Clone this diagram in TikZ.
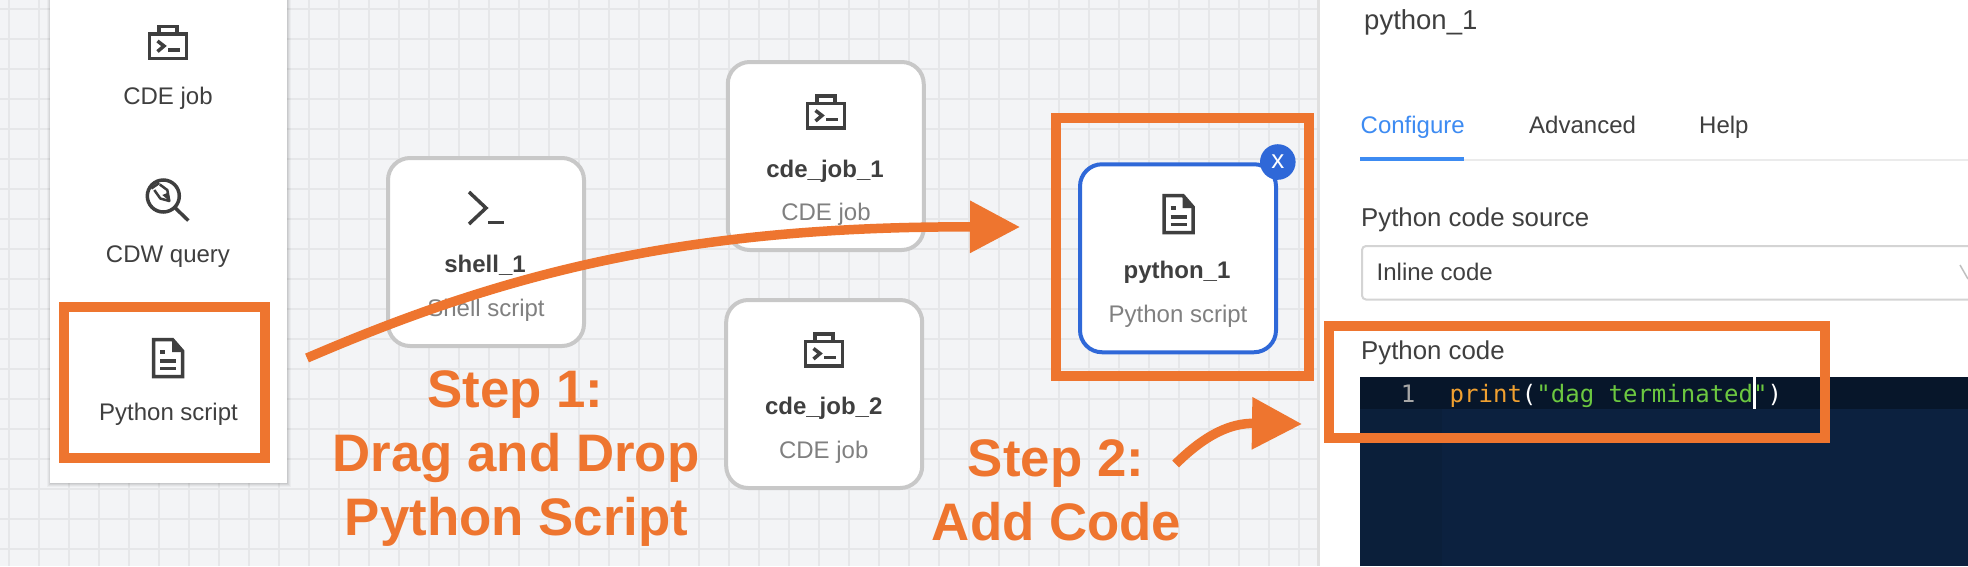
\documentclass[tikz,border=0pt]{standalone}
\usepackage{fontspec}
\setmainfont{Liberation Sans}
\setmonofont{DejaVu Sans Mono}
\usetikzlibrary{arrows.meta}
\definecolor{bgc}{HTML}{F3F4F6}
\definecolor{gridc}{HTML}{E6E7E9}
\definecolor{orng}{HTML}{EE752F}
\definecolor{cardc}{HTML}{C8C8C8}
\definecolor{bluec}{HTML}{2F68D8}
\definecolor{inkc}{HTML}{3F3F3F}
\definecolor{grayt}{HTML}{808080}
\definecolor{tabblue}{HTML}{3D8BF2}
\definecolor{edc}{HTML}{0C213F}
\definecolor{edline}{HTML}{07162A}
\definecolor{edgut}{HTML}{0B1F3A}
\definecolor{codeo}{HTML}{F0A030}
\definecolor{codeg}{HTML}{6CC840}
\tikzset{
  x=1pt,y=-1pt,
  lbl/.style={anchor=base,inner sep=0pt,text=inkc,font=\fontsize{24}{28}\selectfont},
  lbll/.style={anchor=base west,inner sep=0pt,text=inkc,font=\fontsize{24}{28}\selectfont},
  boldl/.style={lbl,font=\fontsize{24}{28}\selectfont\bfseries,text=inkc},
  grayl/.style={lbl,text=grayt},
  stepl/.style={anchor=base,inner sep=0pt,text=orng,font=\fontsize{52.8}{60}\selectfont\bfseries},
  card/.style={draw=cardc,line width=4pt,fill=white,rounded corners=22pt,minimum width=196pt,minimum height=188pt,inner sep=0pt},
  orangebox/.style={draw=orng,line width=10pt,inner sep=0pt},
  bigarrow/.style={draw=orng,line width=9.5pt,-{Triangle[length=50pt,width=50pt,fill=orng]}},
  icon/.style={draw=inkc,line width=3.5pt,line cap=butt,line join=miter},
  brief/.pic={
    \draw[icon] (-18.5,-8.5) rectangle (18.5,16);
    \draw[icon] (-9,-8.5) -- (-9,-16) -- (9,-16) -- (9,-8.5);
    \draw[icon] (-10.5,-1.5) -- (-4,3.5) -- (-10.5,9);
    \draw[icon] (0,7.5) -- (12,7.5);
  },
  docu/.pic={
    \fill[inkc] (4,-20) -- (16,-6) -- (4,-6) -- cycle;
    \draw[icon] (-14.5,-18.5) -- (4.5,-18.5) -- (14.5,-7) -- (14.5,18.5) -- (-14.5,18.5) -- cycle;
    \draw[icon] (-8,-6) -- (-3,-6);
    \draw[icon] (-8,3) -- (8,3);
    \draw[icon] (-8,10.5) -- (8,10.5);
  },
  lens/.pic={
    \draw[icon] (0,0) circle (16);
    \draw[icon] (12,12) -- (25,24.5);
    \draw[icon,line width=2.5pt] (-12,-7.5) -- (-4,-13);
    \draw[icon,line width=2.5pt,line join=round] (-9,-6) -- (-3,2.5) -- (6,5) -- (4,-6) -- (-3.5,-11.5);
    \fill[inkc] (-1,-1) -- (6,5) -- (4,-3) -- cycle;
  },
  shellic/.pic={
    \draw[icon] (-17,-16) -- (0,0) -- (-17,16);
    \draw[icon] (2,14.5) -- (18,14.5);
  }
}
\begin{document}
\begin{tikzpicture}
\useasboundingbox (0,0) rectangle (1968,566);
\clip (0,0) rectangle (1968,566);
% canvas and grid
\fill[bgc] (0,0) rectangle (1968,566);
\foreach \gx in {0,...,43} \draw[gridc,line width=2pt] ({9.3+30*\gx},0) -- ({9.3+30*\gx},566);
\foreach \gy in {0,...,18} \draw[gridc,line width=2pt] (0,{9+30*\gy}) -- (1320,{9+30*\gy});
% palette
\fill[black,opacity=.03] (47,0) rectangle (291,487);
\fill[black,opacity=.04] (48,0) rectangle (290,486);
\fill[black,opacity=.05] (49,0) rectangle (289,485);
\fill[black,opacity=.06] (50,0) rectangle (288,484);
\fill[white] (50,0) rectangle (287,482.5);
\pic at (168,42.5) {brief};
\node[lbl] (palcde) at (168,104) {CDE job};
\pic at (163.3,196) {lens};
\node[lbl] (palcdw) at (168,262) {CDW query};
\pic at (168,358) {docu};
\node[lbl] (palpy) at (168.5,420.6) {Python script};
\node[orangebox,minimum width=201pt,minimum height=151pt] (box1) at (164.5,382.5) {};
% job cards
\node[card] (shell) at (486,252) {};
\pic at (486,208) {shellic};
\node[boldl] (shellname) at (485,272.5) {shell\_1};
\node[grayl] (shelltype) at (486,316) {Shell script};
\node[card] (cdeone) at (825.75,156) {};
\pic at (826,112) {brief};
\node[boldl] (cdeonename) at (825,177) {cde\_job\_1};
\node[grayl] (cdeonetype) at (826,220) {CDE job};
\node[card] (cdetwo) at (824.2,394) {};
\pic at (824,350) {brief};
\node[boldl] (cdetwoname) at (823.7,414.5) {cde\_job\_2};
\node[grayl] (cdetwotype) at (823.7,458.5) {CDE job};
\node[card,draw=bluec] (pycard) at (1178,258.25) {};
\pic at (1178.5,214) {docu};
\node[boldl] (pyname) at (1177,278.7) {python\_1};
\node[grayl] (pytype) at (1178,322.4) {Python script};
\node[circle,fill=bluec,minimum size=35.6pt,inner sep=0pt,text=white,font=\fontsize{26}{26}\selectfont] (closex) at (1277.8,162) {x};
\node[orangebox,minimum width=253pt,minimum height=258pt] (box2) at (1182.5,247) {};
% right panel
\fill[black!12] (1316.5,0) rectangle (1320,566);
\fill[white] (1320,0) rectangle (1968,566);
\node[lbll,font=\fontsize{27.5}{30}\selectfont] (title) at (1364,29) {python\_1};
\node[lbll,text=tabblue] (tabconf) at (1360.5,133) {Configure};
\node[lbll] (tabadv) at (1529,133) {Advanced};
\node[lbll] (tabhelp) at (1699,133) {Help};
\draw[black!8,line width=2pt] (1360,159.5) -- (1968,159.5);
\draw[tabblue,line width=4pt] (1360,158.7) -- (1464,158.7);
\node[lbll,font=\fontsize{25.8}{28}\selectfont] (srclabel) at (1361,226.7) {Python code source};
\draw[black!17,line width=2pt,fill=white,rounded corners=4pt] (1362,246) rectangle (1990,299.5);
\node[lbll] (srcvalue) at (1376.5,280) {Inline code};
\draw[black!25,line width=1.5pt] (1960,265) -- (1968,279);
\node[lbll,font=\fontsize{25.8}{28}\selectfont] (codelabel) at (1361,359) {Python code};
% editor
\fill[edc] (1360,376.5) rectangle (1968,566);
\fill[edgut] (1360,408.7) rectangle (1442,566);
\fill[edline] (1360,376.5) rectangle (1968,408.7);
\node[anchor=base,inner sep=0pt,font=\fontsize{24}{26}\ttfamily,text=gray!70!white] (lineno) at (1408,402) {1};
\node[anchor=base west,inner sep=0pt,font=\fontsize{24}{26}\ttfamily] (code) at (1449.5,402) {\textcolor{codeo}{print}\textcolor{white}{(}\textcolor{codeg}{"dag terminated"}\textcolor{white}{)}};
\fill[white] (1752.5,376.5) rectangle (1755.5,408.7);
\node[orangebox,minimum width=496pt,minimum height=112pt] (box3) at (1577,382) {};
% step labels
\node[stepl] (stepone) at (515.5,407) {Step 1:};
\node[stepl] (steponeb) at (516,471) {Drag and Drop};
\node[stepl] (steponec) at (516.5,535) {Python Script};
\node[stepl] (steptwo) at (1056,476) {Step 2:};
\node[stepl] (steptwob) at (1056.6,540) {Add Code};
% arrows
\coordinate (dragstart) at (307,358);
\coordinate (droptip) at (1020,227);
\coordinate (addstart) at (1175.6,464);
\coordinate (addtip) at (1302,424);
\draw[bigarrow] (dragstart) .. controls (500,275) and (680,226) .. (droptip);
\draw[bigarrow] (addstart) .. controls (1205,435) and (1230,423) .. (addtip);
\end{tikzpicture}
\end{document}
